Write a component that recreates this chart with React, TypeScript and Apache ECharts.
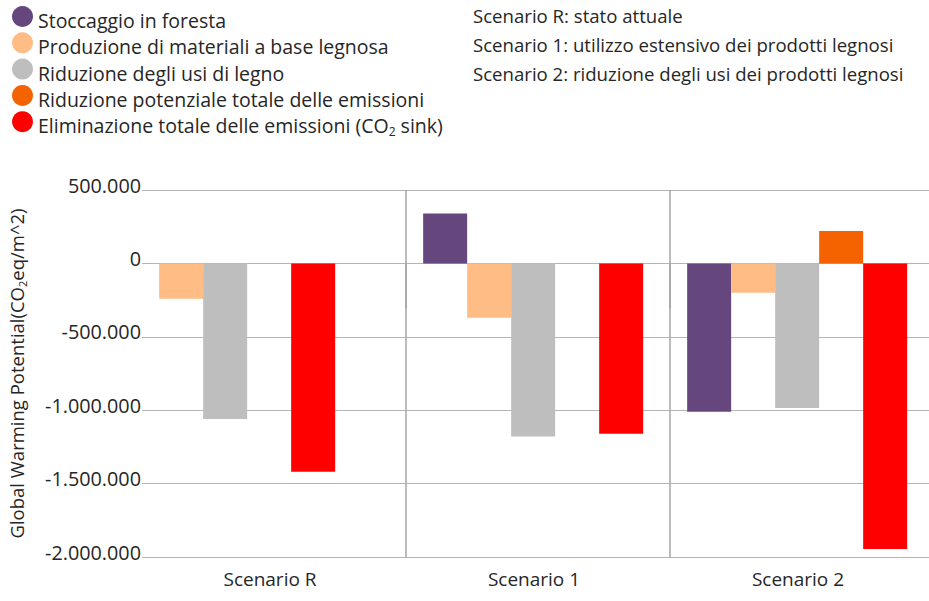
import React, { useEffect, useRef } from "react";
import * as echarts from "echarts";

const categories = ["Scenario R", "Scenario 1", "Scenario 2"];
const seriesNames = [
  "Stoccaggio in foresta",
  "Produzione di materiali a base legnosa",
  "Riduzione degli usi di legno",
  "Riduzione potenziale totale delle emissioni",
  "Eliminazione totale delle emissioni (CO2 sink)",
];
const seriesColors = ["#65467D", "#FFBC85", "#BEBEBE", "#F56200", "#FF0000"];
// null = no slot reserved in that scenario; 0 = empty slot
const stoccaggio = [null, 340000, -1010000];
const produzione = [-240000, -370000, -200000];
const riduzioneUsi = [-1060000, -1180000, -985000];
const riduzionePotenziale = [0, 0, 220000];
const eliminazione = [-1420000, -1160000, -1945000];
const seriesValues = [stoccaggio, produzione, riduzioneUsi, riduzionePotenziale, eliminazione];
const yTicks = { min: -2000000, max: 500000, interval: 500000 };
const scenarioNotes = [
  "Scenario R: stato attuale",
  "Scenario 1: utilizzo estensivo dei prodotti legnosi",
  "Scenario 2: riduzione degli usi dei prodotti legnosi",
];

const FONT = "'Open Sans', 'Noto Sans', sans-serif";
const TXT = "#262626";

function fmt(v: number) {
  const s = Math.abs(v).toString().replace(/\B(?=(\d{3})+(?!\d))/g, ".");
  return (v < 0 ? "-" : "") + s;
}

export default function App() {
  const ref = useRef<HTMLDivElement>(null);
  useEffect(() => {
    if (!ref.current) return;
    const chart = echarts.init(ref.current, null, { renderer: "svg" });

    const series = seriesNames.map((name, si) => {
      const data: any[] = [];
      categories.forEach((_, ci) => {
        const v = seriesValues[si][ci];
        if (v === null) return;
        let slot = 0;
        for (let k = 0; k < si; k++) if (seriesValues[k][ci] !== null) slot++;
        data.push([ci, v, slot]);
      });
      return {
        type: "custom",
        name,
        itemStyle: { color: seriesColors[si] },
        data,
        encode: { x: 0, y: 1 },
        renderItem: (params: any, api: any) => {
          const ci = api.value(0);
          const v = api.value(1);
          const slot = api.value(2);
          const band = api.size([1, 0])[0];
          const w = band / 6;
          const cx = api.coord([ci, 0])[0];
          const x = cx - band / 2 + band * 0.065 + slot * w;
          const y0 = api.coord([ci, 0])[1];
          const y1 = api.coord([ci, v])[1];
          return {
            type: "rect",
            shape: { x, y: Math.min(y0, y1), width: w, height: Math.abs(y1 - y0) },
            style: { fill: seriesColors[si] },
          };
        },
      };
    });

    chart.setOption({
      animation: false,
      textStyle: { fontFamily: FONT },
      legend: {
        orient: "vertical",
        left: 12,
        top: 6,
        padding: 0,
        itemWidth: 21,
        itemHeight: 21,
        itemGap: 1.8,
        icon: "circle",
        data: seriesNames,
        formatter: (n: string) => n.replace("CO2", "CO{sub|2}"),
        textStyle: {
          fontFamily: FONT,
          fontSize: 19.5,
          color: TXT,
          lineHeight: 13,
          padding: [8, 0, 0, 0],
          rich: { sub: { fontSize: 12, fontFamily: FONT, color: TXT, padding: [12, 0, 0, 0] } },
        },
      },
      graphic: scenarioNotes.map((t, i) => ({
        type: "text",
        left: 473,
        top: 6 + i * 29,
        style: { text: t, fontSize: 18.6, fontFamily: FONT, fill: TXT },
      })),
      grid: { left: 142, right: -5, top: 190, bottom: 44, outerBoundsMode: "none", containLabel: false },
      xAxis: {
        type: "category",
        data: categories,
        axisLine: { show: false },
        axisTick: {
          show: true,
          length: 45,
          interval: (idx: number) => idx !== 0,
          lineStyle: { color: "#A6A6A6", width: 1.5 },
        },
        splitLine: {
          show: true,
          interval: (idx: number) => idx !== 0,
          lineStyle: { color: "#A6A6A6", width: 1.5 },
        },
        axisLabel: { fontSize: 19, color: TXT, fontFamily: FONT, margin: 12, padding: [0, 8, 0, 0] },
      },
      yAxis: {
        type: "value",
        min: yTicks.min,
        max: yTicks.max,
        interval: yTicks.interval,
        name: "Global Warming Potential(CO{sub|2}eq/m^2)",
        nameLocation: "middle",
        nameGap: 114,
        nameTextStyle: {
          fontSize: 18.5,
          color: TXT,
          fontFamily: FONT,
          rich: { sub: { fontSize: 11, fontFamily: FONT, color: TXT, padding: [12, 0, 0, 0] } },
        },
        axisLine: { show: false },
        axisTick: { show: false },
        splitLine: { lineStyle: { color: "#B4B4B4", width: 1 } },
        axisLabel: {
          fontSize: 19.8,
          color: TXT,
          fontFamily: FONT,
          margin: 1,
          verticalAlign: "bottom",
          lineHeight: 10,
          formatter: (v: number) => fmt(v),
        },
      },
      series,
    });
    return () => chart.dispose();
  }, []);
  return <div ref={ref} style={{ width: 929, height: 601, position: "absolute", left: 0, top: 0 }} />;
}
